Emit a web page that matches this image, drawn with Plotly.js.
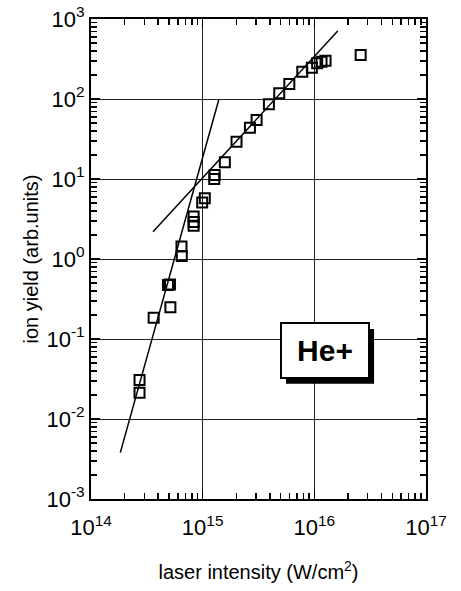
<!DOCTYPE html>
<html>
<head>
<meta charset="utf-8">
<script src="https://cdn.plot.ly/plotly-3.0.1.min.js"></script>
<style>
html, body { margin: 0; padding: 0; background: #fff; }
#chart { width: 461px; height: 591px; }
</style>
</head>
<body>
<div id="chart"></div>
<script>
// Measured ion yield of He+ versus laser intensity
var intensity = [2.72e14, 2.72e14, 3.64e14, 5.14e14, 4.89e14, 5.1e14, 6.46e14, 6.5e14,
  8.3e14, 8.3e14, 8.3e14, 9.9e14, 1.045e15, 1.28e15, 1.27e15, 1.58e15, 2.01e15,
  2.65e15, 3.04e15, 3.92e15, 4.85e15, 5.97e15, 7.8e15, 9.5e15, 1.06e16, 1.16e16,
  1.26e16, 2.6e16];
var ionYield = [0.0307, 0.0213, 0.185, 0.249, 0.473, 0.48, 1.43, 1.09,
  3.4, 2.9, 2.6, 5.1, 5.74, 11.2, 10.0, 16.2, 29.2,
  43.8, 54.6, 85.8, 118, 154, 219, 246, 279, 292,
  301, 355];

// Fit lines (end points)
var steepFitX = [1.83e14, 1.40e15];
var steepFitY = [0.0038, 100];
var shallowFitX = [3.59e14, 1.62e16];
var shallowFitY = [2.19, 708];

// Axis ticks
var xTickVals = [1e14, 1e15, 1e16, 1e17];
var xTickText = ['10<sup>14</sup>', '10<sup>15</sup>', '10<sup>16</sup>', '10<sup>17</sup>'];
var yTickVals = [1e-3, 1e-2, 1e-1, 1e0, 1e1, 1e2, 1e3];
var yTickText = ['10<sup>-3</sup>', '10<sup>-2</sup>', '10<sup>-1</sup>', '10<sup>0</sup>',
  '10<sup>1</sup>', '10<sup>2</sup>', '10<sup>3</sup>'];

function minorVals(lo, hi) {
  var v = [];
  for (var e = lo; e < hi; e++) {
    for (var m = 2; m <= 9; m++) v.push(m * Math.pow(10, e));
  }
  return v;
}

var FONT = 'Liberation Sans, Arial, Helvetica, sans-serif';

var traces = [
  { x: steepFitX, y: steepFitY, mode: 'lines', type: 'scatter',
    line: { color: '#000', width: 1.5 }, hoverinfo: 'skip', showlegend: false },
  { x: shallowFitX, y: shallowFitY, mode: 'lines', type: 'scatter',
    line: { color: '#000', width: 1.5 }, hoverinfo: 'skip', showlegend: false },
  { x: intensity, y: ionYield, mode: 'markers', type: 'scatter',
    marker: { symbol: 'square-open', size: 10, color: '#000', line: { width: 2, color: '#000' } },
    showlegend: false }
];

function axisCommon() {
  return {
    type: 'log',
    showline: true, linecolor: '#000', linewidth: 2,
    mirror: 'allticks',
    ticks: 'inside', ticklen: 9, tickwidth: 1.5, tickcolor: '#000',
    showgrid: true, gridcolor: '#222', gridwidth: 1,
    zeroline: false,
    tickfont: { family: FONT, size: 22, color: '#000' }
  };
}

var xa = axisCommon();
xa.range = [14, 17];
xa.tickmode = 'array';
xa.tickvals = xTickVals;
xa.ticktext = xTickText;
xa.ticklabelstandoff = 8;
xa.minor = { tickmode: 'array', tickvals: minorVals(14, 17), ticks: 'inside', ticklen: 6, tickwidth: 1.5, tickcolor: '#000', showgrid: false };
xa.title = { text: 'laser intensity (W/cm<sup>2</sup>)', font: { family: FONT, size: 20, color: '#000' }, standoff: 26 };

var ya = axisCommon();
ya.range = [-3, 3];
ya.tickmode = 'array';
ya.tickvals = yTickVals;
ya.ticktext = yTickText;
ya.minor = { tickmode: 'array', tickvals: minorVals(-3, 3), ticks: 'inside', ticklen: 6, tickwidth: 1.5, tickcolor: '#000', showgrid: false };
ya.title = { text: 'ion yield (arb.units)', font: { family: FONT, size: 20, color: '#000' }, standoff: 2 };

var layout = {
  width: 461, height: 591,
  margin: { l: 91, r: 35, t: 19, b: 92 },
  paper_bgcolor: '#fff', plot_bgcolor: '#fff',
  xaxis: xa, yaxis: ya,
  showlegend: false,
  shapes: [
    { type: 'rect', xref: 'paper', yref: 'paper', layer: 'above',
      x0: 0.582, x1: 0.845, y0: 0.240, y1: 0.354,
      fillcolor: '#000', line: { width: 0 } }
  ],
  annotations: [
    { xref: 'paper', yref: 'paper', x: 0.699, y: 0.309, xanchor: 'center', yanchor: 'middle',
      text: '<b>He+</b>', showarrow: false, width: 84, height: 51,
      font: { family: FONT, size: 30, color: '#000' },
      bgcolor: '#fff', bordercolor: '#000', borderwidth: 2 }
  ]
};

Plotly.newPlot('chart', traces, layout, { displayModeBar: false, staticPlot: true });
</script>
</body>
</html>
